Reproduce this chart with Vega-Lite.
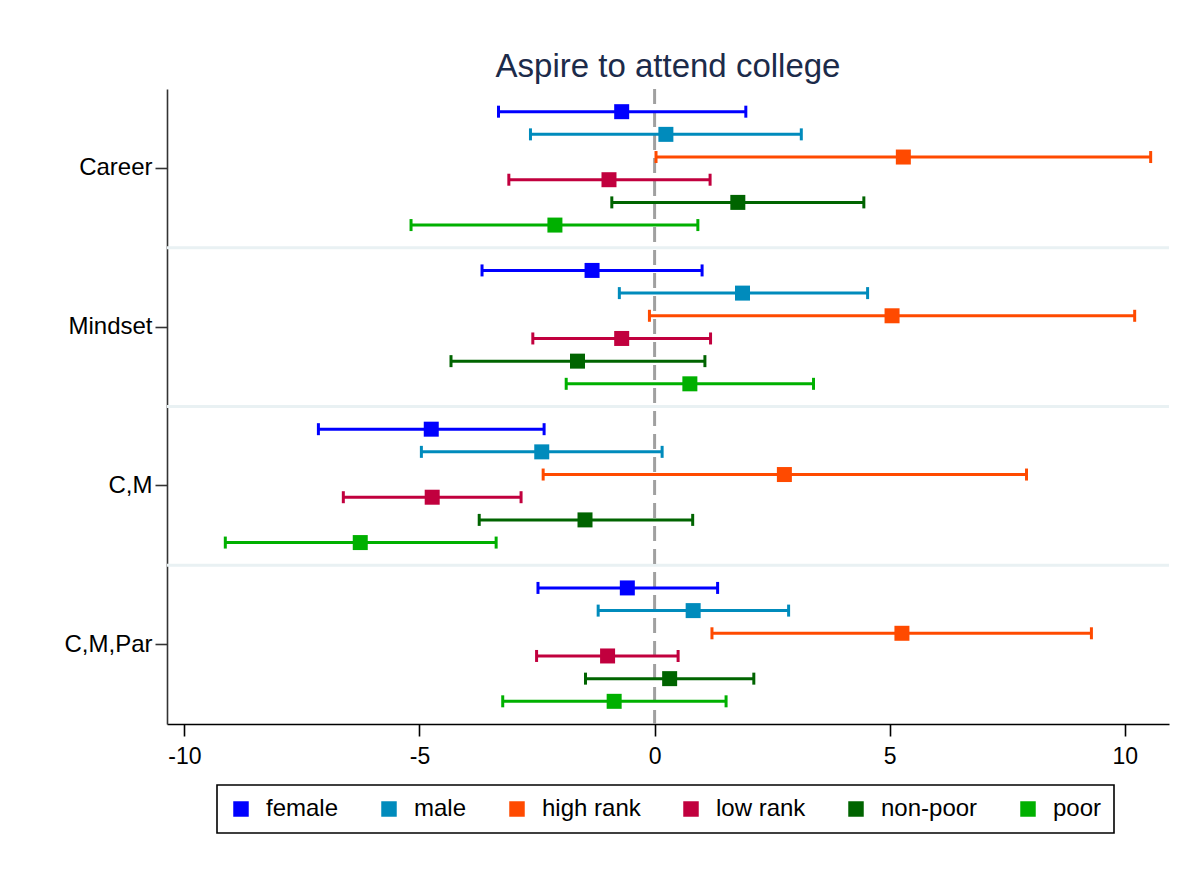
{
  "$schema": "https://vega.github.io/schema/vega-lite/v6.json",
  "width": 1002,
  "height": 635,
  "autosize": "none",
  "padding": {"left": 167, "top": 89, "right": 32, "bottom": 160},
  "background": "white",
  "title": {
    "text": "Aspire to attend college",
    "frame": "group",
    "anchor": "middle",
    "font": "Liberation Sans",
    "fontSize": 33,
    "fontWeight": "normal",
    "color": "#1c2b4a",
    "offset": 4
  },
  "datasets": {
    "coef": [
      {"group": "Career", "series": "female", "b": -0.70, "lo": -3.32, "hi": 1.94},
      {"group": "Career", "series": "male", "b": 0.24, "lo": -2.64, "hi": 3.12},
      {"group": "Career", "series": "high rank", "b": 5.29, "lo": 0.03, "hi": 10.55},
      {"group": "Career", "series": "low rank", "b": -0.97, "lo": -3.10, "hi": 1.18},
      {"group": "Career", "series": "non-poor", "b": 1.77, "lo": -0.91, "hi": 4.45},
      {"group": "Career", "series": "poor", "b": -2.12, "lo": -5.18, "hi": 0.92},
      {"group": "Mindset", "series": "female", "b": -1.33, "lo": -3.67, "hi": 1.01},
      {"group": "Mindset", "series": "male", "b": 1.87, "lo": -0.75, "hi": 4.53},
      {"group": "Mindset", "series": "high rank", "b": 5.05, "lo": -0.11, "hi": 10.21},
      {"group": "Mindset", "series": "low rank", "b": -0.70, "lo": -2.59, "hi": 1.19},
      {"group": "Mindset", "series": "non-poor", "b": -1.64, "lo": -4.33, "hi": 1.07},
      {"group": "Mindset", "series": "poor", "b": 0.75, "lo": -1.88, "hi": 3.38},
      {"group": "C,M", "series": "female", "b": -4.75, "lo": -7.15, "hi": -2.35},
      {"group": "C,M", "series": "male", "b": -2.40, "lo": -4.96, "hi": 0.16},
      {"group": "C,M", "series": "high rank", "b": 2.76, "lo": -2.37, "hi": 7.91},
      {"group": "C,M", "series": "low rank", "b": -4.73, "lo": -6.62, "hi": -2.84},
      {"group": "C,M", "series": "non-poor", "b": -1.48, "lo": -3.73, "hi": 0.81},
      {"group": "C,M", "series": "poor", "b": -6.26, "lo": -9.13, "hi": -3.37},
      {"group": "C,M,Par", "series": "female", "b": -0.58, "lo": -2.48, "hi": 1.34},
      {"group": "C,M,Par", "series": "male", "b": 0.82, "lo": -1.20, "hi": 2.85},
      {"group": "C,M,Par", "series": "high rank", "b": 5.26, "lo": 1.22, "hi": 9.29},
      {"group": "C,M,Par", "series": "low rank", "b": -1.00, "lo": -2.51, "hi": 0.50},
      {"group": "C,M,Par", "series": "non-poor", "b": 0.32, "lo": -1.47, "hi": 2.11},
      {"group": "C,M,Par", "series": "poor", "b": -0.86, "lo": -3.23, "hi": 1.52}
    ],
    "sep": [
      {"group": "Mindset"},
      {"group": "C,M"},
      {"group": "C,M,Par"}
    ],
    "ref": [
      {"ref": 0}
    ]
  },
  "layer": [
    {
      "data": {"name": "sep"},
      "mark": {"type": "rule", "color": "#e9f1f3", "strokeWidth": 3},
      "encoding": {
        "y": {
          "field": "group", "type": "nominal", "bandPosition": 0,
          "scale": {"domain": ["Career", "Mindset", "C,M", "C,M,Par"], "paddingInner": 0, "paddingOuter": 0},
          "axis": {
            "title": null,
            "domain": true, "domainColor": "#333333", "domainWidth": 1.6,
            "ticks": true, "tickSize": 12, "tickColor": "#333333", "tickWidth": 1.6,
            "labelFont": "Liberation Sans", "labelFontSize": 24, "labelColor": "#000000",
            "labelPadding": 3, "grid": false, "labelLimit": 300
          }
        }
      }
    },
    {
      "data": {"name": "ref"},
      "mark": {"type": "rule", "color": "#a0a0a0", "strokeWidth": 3, "strokeDash": [15, 8]},
      "encoding": {
        "x": {"field": "ref", "type": "quantitative"}
      }
    },
    {
      "data": {"name": "coef"},
      "mark": {"type": "rule", "strokeWidth": 3, "opacity": 1},
      "encoding": {
        "x": {
          "field": "lo", "type": "quantitative",
          "scale": {"domain": [-10.37, 10.94], "nice": false, "zero": false},
          "axis": {
            "title": null, "values": [-10, -5, 0, 5, 10], "grid": false,
            "labelExpr": "replace(datum.label, '\u2212', '-')",
            "domain": true, "domainColor": "#000000", "domainWidth": 1.6,
            "tickSize": 12, "tickColor": "#000000", "tickWidth": 1.6,
            "labelFont": "Liberation Sans", "labelFontSize": 23, "labelColor": "#000000",
            "labelPadding": 9
          }
        },
        "x2": {"field": "hi"},
        "y": {"field": "group", "type": "nominal"},
        "yOffset": {
          "field": "series", "type": "nominal",
          "scale": {"domain": ["female", "male", "high rank", "low rank", "non-poor", "poor"], "paddingInner": 0, "paddingOuter": 0.5}
        },
        "color": {"field": "series", "type": "nominal"}
      }
    },
    {
      "data": {"name": "coef"},
      "mark": {"type": "tick", "orient": "vertical", "size": 12, "thickness": 3, "opacity": 1},
      "encoding": {
        "x": {"field": "lo", "type": "quantitative"},
        "y": {"field": "group", "type": "nominal"},
        "yOffset": {"field": "series", "type": "nominal"},
        "color": {"field": "series", "type": "nominal"}
      }
    },
    {
      "data": {"name": "coef"},
      "mark": {"type": "tick", "orient": "vertical", "size": 12, "thickness": 3, "opacity": 1},
      "encoding": {
        "x": {"field": "hi", "type": "quantitative"},
        "y": {"field": "group", "type": "nominal"},
        "yOffset": {"field": "series", "type": "nominal"},
        "color": {"field": "series", "type": "nominal"}
      }
    },
    {
      "data": {"name": "coef"},
      "mark": {"type": "point", "shape": "square", "size": 225, "filled": true, "opacity": 1},
      "encoding": {
        "x": {"field": "b", "type": "quantitative"},
        "y": {"field": "group", "type": "nominal"},
        "yOffset": {"field": "series", "type": "nominal"},
        "color": {
          "field": "series", "type": "nominal",
          "scale": {
            "domain": ["female", "male", "high rank", "low rank", "non-poor", "poor"],
            "range": ["#0000ff", "#008bbc", "#ff4a00", "#c1003e", "#006400", "#00b000"]
          },
          "legend": {
            "title": null,
            "orient": "none",
            "legendX": 50,
            "legendY": 696,
            "direction": "horizontal",
            "columns": 6,
            "symbolType": "square",
            "symbolSize": 240,
            "symbolStrokeWidth": 0,
            "symbolOpacity": 1,
            "labelFont": "Liberation Sans",
            "labelFontSize": 24,
            "labelColor": "#000000",
            "labelOffset": 13,
            "columnPadding": 38,
            "padding": 12,
            "strokeColor": "#000000",
            "labelLimit": 300
          }
        }
      }
    }
  ],
  "config": {
    "view": {"stroke": null},
    "legend": {"strokeWidth": 1.6}
  }
}
